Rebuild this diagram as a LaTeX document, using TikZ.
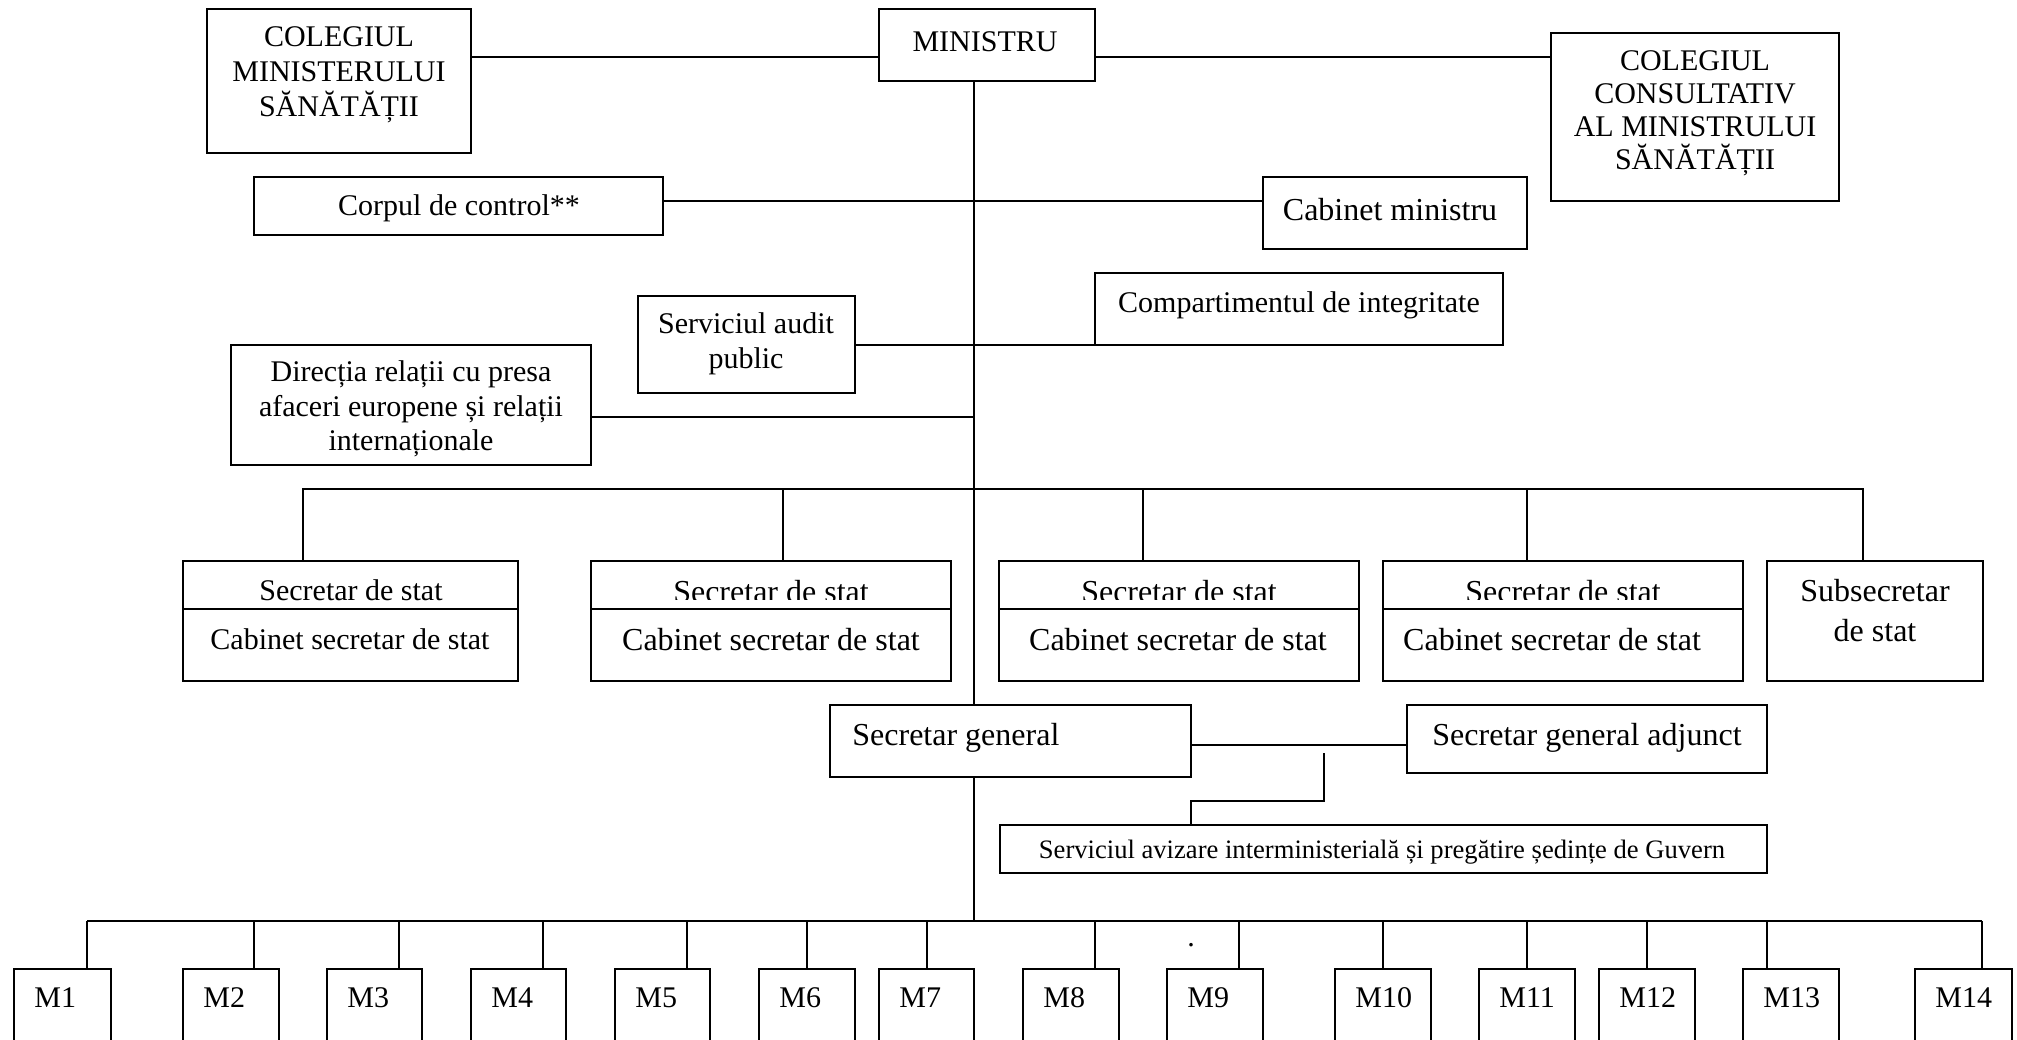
\documentclass[tikz,border=0pt]{standalone}
\usepackage{fontspec}
\setmainfont{Liberation Serif}
\newcommand\setfs[2]{\fontsize{#1}{#2}\selectfont}
\newcommand\orgbox[5]{\node[bx, minimum width={(#4-#2)*0.5pt}, minimum height={(#5-#3)*0.5pt}] (#1) at ({(#2+#4)/2},{(#3+#5)/2}) {};}
\tikzset{
  bx/.style={draw, line width=0.85pt, inner sep=0pt, outer sep=0pt},
  ln/.style={line width=0.7pt},
  tx/.style={inner sep=0pt, align=center, font=\setfs{15pt}{17.5pt}},
  txb/.style={inner sep=0pt, align=center, font=\setfs{16pt}{20pt}},
}
\begin{document}
\begin{tikzpicture}[x=0.5pt, y=-0.5pt]
\clip (0,0) rectangle (2017,1039);
\fill[white] (0,0) rectangle (2017,1039);
% boxes
\orgbox{ColM}{207}{9}{471}{153}
\orgbox{Min}{879}{9}{1095}{81}
\orgbox{ColC}{1551}{33}{1839}{201}
\orgbox{Corp}{254}{177}{663}{235}
\orgbox{Cab}{1263}{177}{1527}{249}
\orgbox{Comp}{1095}{273}{1503}{345}
\orgbox{Aud}{638}{296}{855}{393}
\orgbox{Dir}{231}{345}{591}{465}
\orgbox{S1}{183}{561}{518}{681}
\orgbox{S2}{591}{561}{951}{681}
\orgbox{S3}{999}{561}{1359}{681}
\orgbox{S4}{1383}{561}{1743}{681}
\orgbox{Sub}{1767}{561}{1983}{681}
\orgbox{SG}{830}{705}{1191}{777}
\orgbox{SGA}{1407}{705}{1767}{773}
\orgbox{Av}{1000}{825}{1767}{873}
\foreach \n/\a/\b in {M1/14/111, M2/183/279, M3/327/422, M4/471/566, M5/615/710, M6/759/855, M7/879/974, M8/1023/1119, M9/1167/1263, M10/1335/1431, M11/1479/1575, M12/1599/1695, M13/1743/1839, M14/1915/2012}{
  \orgbox{\n}{\a}{969}{\b}{1080}
  \node[tx, anchor=west] (t\n) at (\a+20,998) {\n};
}
% dividers in secretary boxes
\foreach \s in {S1,S2,S3,S4}{
  \draw[bx] (\s.west |- 0,609) -- (\s.east |- 0,609);
}
% texts
\node[tx] (tColM) at (339,75) {COLEGIUL\\MINISTERULUI\\SĂNĂTĂȚII};
\node[tx] (tMin) at (985,42) {MINISTRU};
\node[tx, font=\setfs{15pt}{16.5pt}] (tColC) at (1695,113) {COLEGIUL\\CONSULTATIV\\AL MINISTRULUI\\SĂNĂTĂȚII};
\node[tx] (tCorp) at (459,208) {Corpul de control**};
\node[txb] (tCab) at (1390,210) {Cabinet ministru};
\node[tx] (tComp) at (1299,305) {Compartimentul de integritate};
\node[tx] (tAud) at (746,344) {Serviciul audit\\public};
\node[tx, font=\setfs{15pt}{17.25pt}] (tDir) at (411,409) {Direcția relații cu presa\\afaceri europene și relații\\internaționale};
\node[tx] (tS1a) at (351,590) {Secretar de stat};
\node[tx] (tS1b) at (350,639) {Cabinet secretar de stat};
\foreach \s/\c/\d in {S2/771/771, S3/1179/1178, S4/1563/1552}{
  \begin{scope}
    \clip (\s.north west) rectangle (\s.east |- 0,599);
    \node[txb] (t\s a) at (\c,592) {Secretar de stat};
  \end{scope}
  \node[txb] (t\s b) at (\d,640) {Cabinet secretar de stat};
}
\node[txb] (tSub) at (1875,611) {Subsecretar\\de stat};
\node[txb, anchor=west] (tSG) at (852,738) {Secretar general};
\node[txb] (tSGA) at (1587,738) {Secretar general adjunct};
\node[tx, font=\setfs{13.3pt}{15pt}] (tAv) at (1382,852) {Serviciul avizare interministerială și pregătire ședințe de Guvern};
\node[tx] (dot) at (1191,945) {.};
% connectors
\coordinate (spine) at (974,0);
\coordinate (busU) at (974,489);
\coordinate (busL) at (974,921);
\draw[ln] (ColM.east |- 0,57) -- (Min.west |- 0,57);
\draw[ln] (Min.east |- 0,57) -- (ColC.west |- 0,57);
\draw[ln] (Min.south -| spine) -- (SG.north -| spine);
\draw[ln] (SG.south -| spine) -- (busL);
\draw[ln] (Corp.east |- 0,201) -- (Cab.west |- 0,201);
\draw[ln] (Aud.east |- 0,345) -- (Comp.south west);
\draw[ln] (Dir.east |- 0,417) -- (Dir.east |- 0,417 -| spine);
\draw[ln] (S1.north -| 303,0) -- (303,489) -- (1863,489) -- (Sub.north -| 1863,0);
\foreach \s/\x in {S2/783, S3/1143, S4/1527}{
  \draw[ln] (\x,489) -- (\s.north -| \x,0);
}
\draw[ln] (SG.east |- 0,745) -- (SGA.west |- 0,745);
\coordinate (br) at (1324,753);
\draw[ln] (br) -- (1324,801) -- (1191,801) -- (Av.north -| 1191,0);
\draw[ln] (87,921) -- (1982,921);
\foreach \n/\x in {M1/87, M2/254, M3/399, M4/543, M5/687, M6/807, M7/927, M8/1095, M9/1239, M10/1383, M11/1527, M12/1647, M13/1767, M14/1982}{
  \draw[ln] (\x,921) -- (\n.north -| \x,0);
}
\end{tikzpicture}
\end{document}
